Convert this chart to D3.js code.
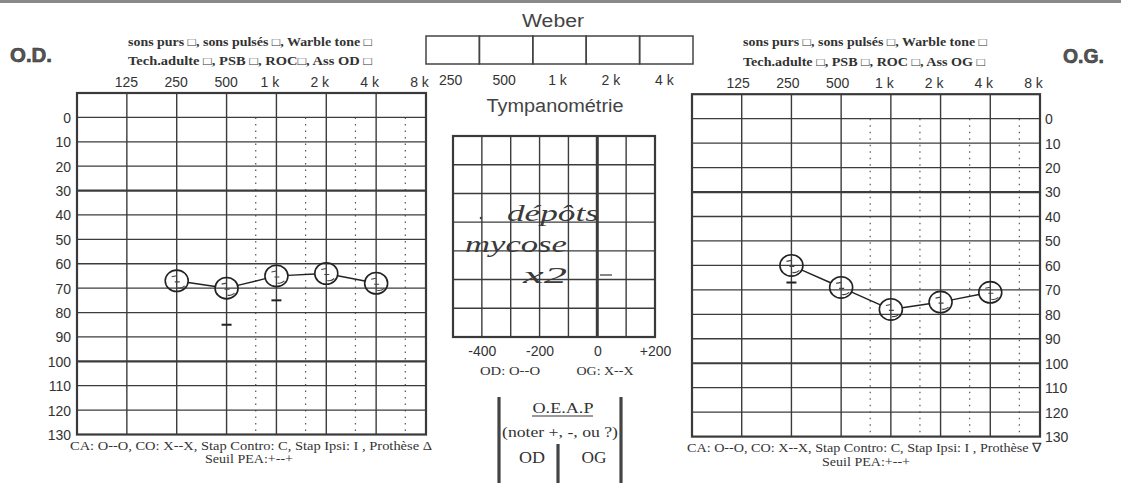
<!DOCTYPE html>
<html>
<head>
<meta charset="utf-8">
<script src="https://cdn.jsdelivr.net/npm/d3@7"></script>
<style>
  html, body { margin: 0; padding: 0; background: #fff; }
  svg { display: block; }
  .sans { font-family: "Liberation Sans", Arial, sans-serif; }
  .serif { font-family: "Liberation Serif", "Times New Roman", serif; }
  .hand { font-family: "Liberation Serif", serif; font-style: italic; }
</style>
</head>
<body>
<svg id="chart" width="1121" height="483"></svg>
<script>
// ---- Data -------------------------------------------------------------
const freqTicks = [125, 250, 500, 1000, 2000, 4000, 8000];
const freqLabels = ["125", "250", "500", "1 k", "2 k", "4 k", "8 k"];
const halfOctaves = [750, 1500, 3000, 6000];
const dbTicks = [0, 10, 20, 30, 40, 50, 60, 70, 80, 90, 100, 110, 120, 130];
const heavyDb = [30, 100];

// Air-conduction thresholds (dB HL) per ear
const testFreqs = [250, 500, 1000, 2000, 4000];
const odAir = [67, 70, 65, 64, 68];
const ogAir = [60, 69, 78, 75, 71];
// Extra single marks noted on each ear
const odMarks = [{ f: 500, db: 85 }, { f: 1000, db: 75 }];
const ogMarks = [{ f: 250, db: 67 }];

const weberFreqs = ["250", "500", "1 k", "2 k", "4 k"];
const tympTicks = [-400, -200, 0, 200];
const tympTickLabels = ["-400", "-200", "0", "+200"];
const tympRows = 7;

const svg = d3.select("#chart");
const ink = "#333";

// scanner edge at the top
svg.append("rect").attr("x", 0).attr("y", 0).attr("width", 1121).attr("height", 3)
  .attr("fill", "#8a8a8a");

function fitText(sel, w) {
  sel.attr("textLength", w).attr("lengthAdjust", "spacingAndGlyphs");
  return sel;
}

// ---- Audiogram ---------------------------------------------------------
function audiogram(opt) {
  const x = d3.scaleLog().domain([62.5, 8000]).range([opt.x0, opt.x1]);
  const y = d3.scaleLinear().domain([-10, 130]).range([opt.y0, opt.y1]);
  const g = svg.append("g");

  // half-octave dotted lines (from 0 dB down)
  g.selectAll(null).data(halfOctaves).join("line")
    .attr("x1", d => x(d)).attr("x2", d => x(d))
    .attr("y1", y(0)).attr("y2", y(130))
    .attr("stroke", "#555").attr("stroke-width", 1.2)
    .attr("stroke-dasharray", "1.5,5");

  // horizontal grid
  g.selectAll(null).data(dbTicks.slice(0, -1)).join("line")
    .attr("x1", opt.x0).attr("x2", opt.x1)
    .attr("y1", d => y(d)).attr("y2", d => y(d))
    .attr("stroke", "#3c3c3c")
    .attr("stroke-width", d => heavyDb.includes(d) ? 2.2 : 1.3);

  // vertical grid
  g.selectAll(null).data(freqTicks.slice(0, -1)).join("line")
    .attr("x1", d => x(d)).attr("x2", d => x(d))
    .attr("y1", opt.y0).attr("y2", opt.y1)
    .attr("stroke", "#3c3c3c").attr("stroke-width", 1.4);

  // frame
  g.append("rect").attr("x", opt.x0).attr("y", opt.y0)
    .attr("width", opt.x1 - opt.x0).attr("height", opt.y1 - opt.y0)
    .attr("fill", "none").attr("stroke", "#3a3a3a").attr("stroke-width", 2.2);

  // frequency axis along the top
  const xAxis = d3.axisTop(x).tickValues(freqTicks).tickSize(0)
    .tickFormat((d, i) => freqLabels[i]);
  const ax = g.append("g").attr("transform", `translate(0,${opt.y0 - 3})`).call(xAxis);
  ax.select(".domain").remove();
  ax.selectAll("text").attr("class", "sans").attr("font-size", 14).attr("fill", ink)
    .attr("dx", (d, i) => freqLabels[i].includes("k") ? -7 : opt.dxNum);

  // hearing level axis
  const yAxis = (opt.side === "left" ? d3.axisLeft(y) : d3.axisRight(y))
    .tickValues(dbTicks).tickSize(0).tickPadding(opt.side === "left" ? 6 : 5);
  const ay = g.append("g")
    .attr("transform", `translate(${opt.side === "left" ? opt.x0 : opt.x1},0)`)
    .call(yAxis);
  ay.select(".domain").remove();
  ay.selectAll("text").attr("class", "sans").attr("font-size", 14).attr("fill", ink)
    .attr("dy", "0.35em");

  // thresholds: circles joined edge-to-edge
  const r = 11.5;
  const pts = testFreqs.map((f, i) => [x(f), y(opt.values[i])]);
  const segs = d3.pairs(pts).map(([a, b]) => {
    const dx = b[0] - a[0], dy = b[1] - a[1], L = Math.hypot(dx, dy);
    return [a[0] + dx / L * r, a[1] + dy / L * r, b[0] - dx / L * r, b[1] - dy / L * r];
  });
  g.selectAll(null).data(segs).join("line")
    .attr("x1", d => d[0]).attr("y1", d => d[1]).attr("x2", d => d[2]).attr("y2", d => d[3])
    .attr("stroke", "#222").attr("stroke-width", 1.4);
  g.selectAll(null).data(pts).join("ellipse")
    .attr("cx", d => d[0]).attr("cy", d => d[1])
    .attr("rx", r).attr("ry", r - 0.8)
    .attr("fill", "none").attr("stroke", "#222").attr("stroke-width", 1.6);
  // small pen strokes inside each circle
  g.selectAll(null).data(pts).join("path")
    .attr("d", d => `M${d[0] - 5},${d[1] - 4} l5,-1 M${d[0] - 2},${d[1] + 1} l5,0 M${d[0] + 1},${d[1] + 7} q4,1 7,-2`)
    .attr("fill", "none").attr("stroke", "#444").attr("stroke-width", 1.1);

  // single dash marks
  g.selectAll(null).data(opt.marks).join("line")
    .attr("x1", d => x(d.f) - 5).attr("x2", d => x(d.f) + 5)
    .attr("y1", d => y(d.db)).attr("y2", d => y(d.db))
    .attr("stroke", "#222").attr("stroke-width", 2);

  return { x, y, g };
}

audiogram({ side: "left", x0: 77, x1: 426, y0: 93, y1: 434.5,
            values: odAir, marks: odMarks, dxNum: -1 });
audiogram({ side: "right", x0: 692, x1: 1040, y0: 94.2, y1: 436.6,
            values: ogAir, marks: ogMarks, dxNum: -4 });

// ---- Ear headers and legends ------------------------------------------
function txt(cls, x, y, s, size, anchor, w, weight) {
  const t = svg.append("text").attr("class", cls).attr("x", x).attr("y", y)
    .attr("font-size", size).attr("fill", ink)
    .attr("text-anchor", anchor || "start").attr("font-weight", weight || "normal").text(s);
  if (w) fitText(t, w);
  return t;
}

txt("sans", 10, 62, "O.D.", 21, "start", 42, "bold").attr("fill", "#555").attr("stroke", "#333").attr("stroke-width", 0.6);
txt("sans", 1063, 63, "O.G.", 21, "start", 41, "bold").attr("fill", "#555").attr("stroke", "#333").attr("stroke-width", 0.6);

txt("serif", 128, 46, "sons purs \u25A1, sons pulsés \u25A1, Warble tone \u25A1", 11.5, "start", 244, "bold");
txt("serif", 128, 65, "Tech.adulte \u25A1, PSB \u25A1, ROC\u25A1,  Ass OD \u25A1", 11.5, "start", 244, "bold");
txt("serif", 743, 46, "sons purs \u25A1, sons pulsés \u25A1, Warble tone \u25A1", 11.5, "start", 244, "bold");
txt("serif", 743, 66, "Tech.adulte \u25A1, PSB \u25A1, ROC \u25A1, Ass OG \u25A1", 11.5, "start", 242, "bold");

txt("serif", 70, 450, "CA: O--O, CO: X--X, Stap Contro: C,  Stap Ipsi: I ,  Prothèse \u0394", 13, "start", 362);
txt("serif", 205, 463, "Seuil PEA:+--+", 13, "start", 88);
txt("serif", 687, 452, "CA: O--O, CO: X--X, Stap Contro: C,  Stap Ipsi: I , Prothèse \u2207", 13, "start", 355);
txt("serif", 822, 466, "Seuil PEA:+--+", 13, "start", 88);

// ---- Weber -------------------------------------------------------------
txt("sans", 553, 27, "Weber", 18, "middle", 62).attr("fill", "#444");
const wx = d3.scaleBand().domain(weberFreqs).range([426, 693]);
svg.selectAll(null).data(weberFreqs).join("rect")
  .attr("x", d => wx(d)).attr("y", 36).attr("width", wx.bandwidth()).attr("height", 28)
  .attr("fill", "none").attr("stroke", "#444").attr("stroke-width", 1.5);
svg.selectAll(null).data(weberFreqs).join("text")
  .attr("class", "sans").attr("x", d => wx(d) + wx.bandwidth() / 2 - 2).attr("y", 85)
  .attr("text-anchor", "middle").attr("font-size", 14).attr("fill", ink).text(d => d);

// ---- Tympanometry ------------------------------------------------------
txt("sans", 555, 112, "Tympanométrie", 18, "middle", 137).attr("fill", "#444");
const tx = d3.scaleLinear().domain([-500, 200]).range([453, 655]);
const ty = d3.scaleLinear().domain([0, tympRows]).range([136, 337]);
const tg = svg.append("g");
tg.selectAll(null).data(d3.range(1, tympRows)).join("line")
  .attr("x1", tx(-500)).attr("x2", tx(200)).attr("y1", d => ty(d)).attr("y2", d => ty(d))
  .attr("stroke", "#3c3c3c").attr("stroke-width", 1.4);
tg.selectAll(null).data(d3.range(-400, 200, 100)).join("line")
  .attr("x1", d => tx(d)).attr("x2", d => tx(d)).attr("y1", ty(0)).attr("y2", ty(tympRows))
  .attr("stroke", "#3c3c3c").attr("stroke-width", d => d === 0 ? 3 : 1.4);
tg.append("rect").attr("x", tx(-500)).attr("y", ty(0))
  .attr("width", tx(200) - tx(-500)).attr("height", ty(tympRows) - ty(0))
  .attr("fill", "none").attr("stroke", "#3a3a3a").attr("stroke-width", 2.2);
const tAxis = d3.axisBottom(tx).tickValues(tympTicks).tickSize(0).tickPadding(6)
  .tickFormat((d, i) => tympTickLabels[i]);
const tax = tg.append("g").attr("transform", `translate(0,${ty(tympRows)})`).call(tAxis);
tax.select(".domain").remove();
tax.selectAll("text").attr("class", "sans").attr("font-size", 14).attr("fill", ink)
  .attr("dy", "0.9em");

txt("serif", 510, 375, "OD: O--O", 13, "middle", 60);
txt("serif", 605, 375, "OG: X--X", 13, "middle", 57);

// handwritten note inside the tympanogram
txt("hand", 507, 221, "dépôts", 24, "start", 92).attr("fill", "#3a3a3a");
txt("hand", 465, 252, "mycose", 24, "start", 102).attr("fill", "#3a3a3a");
txt("hand", 523, 283, "x2", 24, "start", 44).attr("fill", "#3a3a3a");
svg.append("circle").attr("cx", 481).attr("cy", 218).attr("r", 1.3).attr("fill", "#444");
svg.append("line").attr("x1", 600).attr("x2", 612).attr("y1", 275).attr("y2", 275)
  .attr("stroke", "#444").attr("stroke-width", 1.3);

// ---- O.E.A.P ----------------------------------------------------------
const bars = [
  { x: 499, y0: 397, y1: 483 },
  { x: 621, y0: 397, y1: 483 },
  { x: 558, y0: 444, y1: 483 }
];
svg.selectAll(null).data(bars).join("line")
  .attr("x1", d => d.x).attr("x2", d => d.x).attr("y1", d => d.y0).attr("y2", d => d.y1)
  .attr("stroke", "#444").attr("stroke-width", 3.2);
txt("serif", 563, 413, "O.E.A.P", 15, "middle", 61);
svg.append("line").attr("x1", 532).attr("x2", 593).attr("y1", 416).attr("y2", 416)
  .attr("stroke", ink).attr("stroke-width", 1);
txt("serif", 560, 437, "(noter +, -, ou ?)", 15, "middle", 116);
txt("serif", 532, 463, "OD", 16, "middle", 26);
txt("serif", 594, 463, "OG", 16, "middle", 25);
</script>
</body>
</html>
